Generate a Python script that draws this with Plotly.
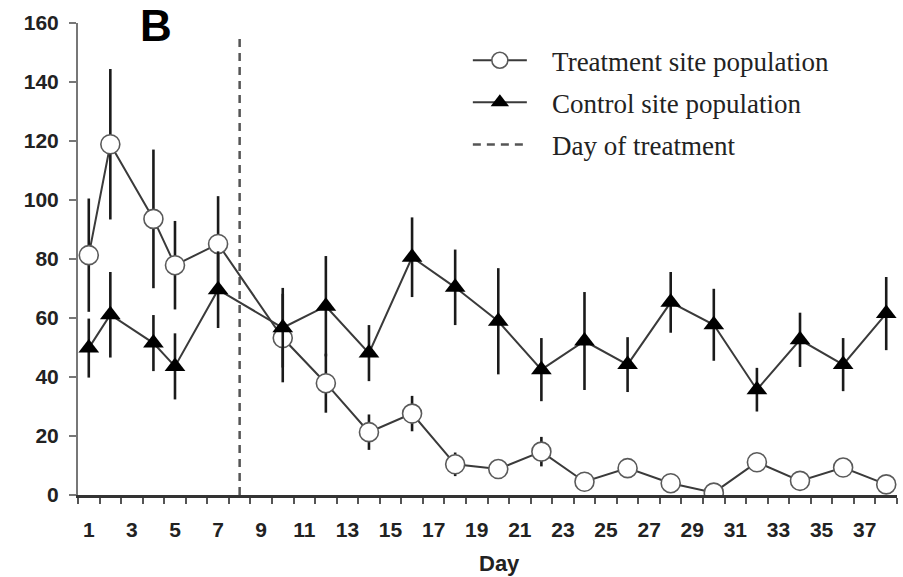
import plotly.graph_objects as go

days = [1, 2, 4, 5, 7, 10, 12, 14, 16, 18, 20, 22, 24, 26, 28, 30, 32, 34, 36, 38]
treatment = [81.3, 118.9, 93.6, 77.9, 85.1, 53.2, 37.9, 21.3, 27.6, 10.4, 8.8, 14.7,
             4.5, 9.1, 4.0, 0.8, 11.1, 4.8, 9.3, 3.6]
treatment_err = [19.2, 25.5, 23.5, 15.0, 16.2, 15.0, 10.0, 6.0, 6.0, 4.0, 2.0, 5.0,
                 1.5, 1.5, 1.5, 1.0, 1.5, 1.5, 1.5, 1.5]
control = [49.8, 61.1, 51.5, 43.6, 69.6, 56.7, 64.0, 48.1, 80.6, 70.4, 58.9, 42.5,
           52.2, 44.2, 65.3, 57.7, 35.7, 52.6, 44.2, 61.5]
control_err = [10.0, 14.5, 9.5, 11.2, 13.0, 13.5, 17.0, 9.5, 13.5, 12.8, 18.0, 10.7,
               16.6, 9.3, 10.3, 12.2, 7.4, 9.2, 9.0, 12.4]
treatment_day = 8
treatment_line_top = 156
x_tick_days = list(range(1, 38, 2))
y_ticks = list(range(0, 161, 20))

gap = "\u00a0\u00a0\u00a0"

fig = go.Figure()

fig.add_trace(go.Scatter(
    x=[treatment_day, treatment_day], y=[0, treatment_line_top],
    mode="lines", name=gap + "Day of treatment", legendrank=3, legendgroup="c",
    line=dict(color="#555555", width=2.5, dash="8px,6px"),
    hoverinfo="skip",
))

fig.add_trace(go.Scatter(
    x=days, y=treatment, mode="lines+markers", name=gap + "Treatment site population",
    legendrank=1, legendgroup="a",
    line=dict(color="#3a3a3a", width=2),
    marker=dict(symbol="circle", size=19, color="white",
                line=dict(color="#5a5a5a", width=1.6)),
    error_y=dict(type="data", array=treatment_err, visible=True,
                 color="#1a1a1a", thickness=2.6, width=0),
))

fig.add_trace(go.Scatter(
    x=days, y=control, mode="lines+markers", name=gap + "Control site population",
    legendrank=2, legendgroup="b",
    line=dict(color="#3a3a3a", width=2),
    marker=dict(symbol="triangle-up", size=18, color="black",
                line=dict(color="black", width=0)),
    error_y=dict(type="data", array=control_err, visible=True,
                 color="#1a1a1a", thickness=2.6, width=0),
))

tick_font = dict(family="Liberation Sans, Arial, sans-serif", size=21,
                 color="#222222", weight="bold")

fig.update_layout(
    width=903, height=577,
    margin=dict(l=78, r=6, t=23, b=82),
    paper_bgcolor="white", plot_bgcolor="white",
    showlegend=True,
    legend=dict(
        x=0.476, y=0.972, xanchor="left", yanchor="top",
        font=dict(family="Liberation Serif, Times New Roman, serif", size=27,
                  color="#222222"),
        itemwidth=54, tracegroupgap=4, traceorder="grouped",
        bgcolor="rgba(0,0,0,0)",
    ),
    xaxis=dict(
        range=[0.5, 38.5], showgrid=False, zeroline=False,
        showline=True, linecolor="#333333", linewidth=2.5,
        tickmode="array", tickvals=x_tick_days,
        ticktext=[str(d) for d in x_tick_days],
        ticks="", tickfont=tick_font, ticklabelstandoff=14,
        minor=dict(ticks="outside", ticklen=6, tickwidth=2, tickcolor="#555555",
                   tick0=0.5, dtick=1, showgrid=False),
    ),
    yaxis=dict(
        range=[0, 160], showgrid=False, zeroline=False,
        showline=True, linecolor="#777777", linewidth=2,
        tickmode="array", tickvals=y_ticks,
        ticks="outside", ticklen=7, tickwidth=2, tickcolor="#777777",
        tickfont=tick_font, ticklabelstandoff=6,
    ),
    annotations=[
        dict(text="B", xref="paper", yref="paper", x=0.095, y=0.994,
             xanchor="center", yanchor="middle", showarrow=False,
             font=dict(family="Liberation Sans, Arial, sans-serif", size=44,
                       color="black", weight="bold")),
        dict(text="Day", xref="paper", yref="paper", x=0.515, y=-0.145,
             xanchor="center", yanchor="middle", showarrow=False,
             font=dict(family="Liberation Sans, Arial, sans-serif", size=22,
                       color="#222222", weight="bold")),
    ],
)

fig.write_html("out.html")
